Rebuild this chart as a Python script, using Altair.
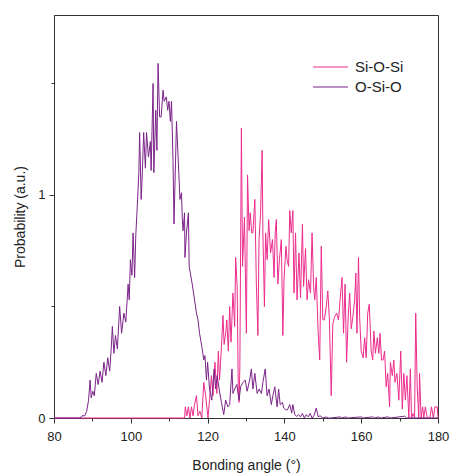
import altair as alt
import pandas as pd

# Si-O-Si bond-angle distribution (angle in degrees, probability a.u.)
sios_x = [80, 114.0, 114.2, 114.6, 115.0, 115.4, 115.8, 116.2, 116.6, 117.1, 117.5, 118.0, 118.5,
          119.0, 119.5, 120.1, 120.5, 121.0, 121.4, 121.9, 122.4, 122.8, 123.1, 123.6, 124.0,
          124.3, 124.7, 125.0, 125.4, 125.75, 126.1, 126.6, 127.05, 127.3, 127.7, 128.0, 128.2,
          128.4, 128.8, 129.1, 129.6, 130.1, 130.4, 130.8, 131.1, 131.5, 131.8, 132.3, 132.7,
          133.1, 133.4, 133.8, 134.2, 134.4, 134.8, 135.1, 135.5, 135.9, 136.4, 136.9, 137.3,
          137.6, 137.9, 138.3, 138.7, 139.2, 139.6, 139.9, 140.4, 140.7, 141.1, 141.4, 141.8,
          142.2, 142.5, 142.9, 143.3, 143.8, 144.2, 144.7, 145.0, 145.5, 145.9, 146.3, 146.8,
          147.2, 147.6, 147.9, 148.3, 148.8, 149.2, 149.6, 150.0, 150.4, 150.9, 151.3, 151.7,
          152.2, 152.6, 153.0, 153.6, 154.1, 154.5, 155.0, 155.4, 155.8, 156.2, 156.6, 157.0,
          157.4, 157.8, 158.3, 158.6, 158.9, 159.3, 159.6, 160.0, 160.5, 160.9, 161.3, 161.7,
          162.1, 162.6, 163.0, 163.3, 163.7, 164.2, 164.6, 164.9, 165.3, 165.7, 166.1, 166.5,
          166.9, 167.4, 167.6, 168.1, 168.5, 168.8, 169.3, 169.8, 170.3, 170.7, 171.1, 171.5,
          171.9, 172.4, 172.8, 173.1, 173.5, 173.9, 174.2, 174.6, 175.0, 175.2, 175.6, 176.0,
          176.3, 176.7, 177.2, 177.9, 178.3, 178.8, 179.2, 179.8, 180]
sios_y = [0, 0.0, 0.05, 0.01, 0.05, 0.0, 0.05, 0.01, 0.06, 0.10, 0.01, 0.03, 0.0,
          0.16, 0.10, 0.0, 0.08, 0.19, 0.10, 0.25, 0.11, 0.30, 0.17, 0.32, 0.46,
          0.33, 0.38, 0.44, 0.30, 0.50, 0.34, 0.56, 0.41, 0.72, 0.59, 0.11, 0.07,
          0.23, 1.30, 0.68, 0.90, 0.38, 1.09, 0.84, 0.92, 0.83, 0.83, 0.98, 0.60,
          0.37, 0.80, 0.92, 1.20, 0.83, 0.50, 0.83, 0.71, 0.89, 0.74, 0.80, 0.63,
          0.83, 0.89, 0.60, 0.71, 0.80, 0.37, 0.62, 0.77, 0.71, 0.68, 0.93, 0.83,
          0.93, 0.56, 0.83, 0.53, 0.74, 0.54, 0.87, 0.59, 0.76, 0.53, 0.62, 0.56,
          0.83, 0.59, 0.53, 0.63, 0.38, 0.26, 0.77, 0.44, 0.44, 0.50, 0.57, 0.45,
          0.10, 0.42, 0.45, 0.47, 0.44, 0.53, 0.63, 0.38, 0.60, 0.25, 0.45, 0.56,
          0.40, 0.45, 0.53, 0.65, 0.38, 0.72, 0.45, 0.30, 0.27, 0.36, 0.27, 0.47,
          0.51, 0.30, 0.26, 0.39, 0.29, 0.36, 0.29, 0.38, 0.26, 0.26, 0.30, 0.14,
          0.20, 0.05, 0.25, 0.19, 0.26, 0.16, 0.20, 0.08, 0.30, 0.04, 0.20, 0.08,
          0.19, 0.0, 0.22, 0.0, 0.02, 0.0, 0.47, 0.13, 0.0, 0.20, 0.0, 0.05,
          0.0, 0.05, 0.0, 0.0, 0.05, 0.0, 0.05, 0.05, 0.0]

# O-Si-O bond-angle distribution
osio_x = [80, 86.8, 87.3, 88.0, 88.5, 89.0, 89.4, 89.7, 90.1, 90.5, 91.0, 91.5, 92.0, 92.5,
          93.0, 93.5, 94.0, 94.5, 94.9, 95.2, 95.6, 96.0, 96.5, 97.1, 97.6, 98.2, 98.7, 99.3,
          99.6, 99.9, 100.3, 100.6, 101.0, 101.3, 101.6, 102.1, 102.3, 102.7, 103.0, 103.35,
          103.8, 104.1, 104.6, 105.1, 105.3, 105.8, 106.0, 106.5, 106.8, 107.1, 107.5, 107.9,
          108.4, 108.7, 109.25, 109.6, 109.95, 110.3, 110.6, 111.0, 111.25, 111.9, 112.5,
          112.8, 113.2, 113.4, 113.6, 114.0, 114.1, 114.5, 115.0, 115.2, 115.5, 116.0, 116.6,
          117.1, 117.5, 117.9, 118.5, 119.0, 119.3, 119.7, 120.0, 120.5, 121.1, 121.7, 122.1,
          122.5, 123.0, 123.6, 124.2, 124.7, 125.3, 125.75, 126.35, 126.6, 127.05, 127.6,
          128.2, 128.6, 129.2, 129.8, 130.3, 130.95, 131.4, 131.8, 132.3, 132.9, 133.4, 134.0,
          134.4, 135.0, 135.5, 136.0, 136.6, 137.0, 137.5, 138.1, 138.5, 138.9, 139.5, 139.8,
          140.3, 140.8, 141.4, 141.9, 142.2, 142.7, 143.2, 143.7, 144.2, 144.7, 145.2, 145.7,
          146.2, 146.7, 147.2, 147.7, 148.3, 148.8, 149.3, 150.0, 151.0, 151.5, 152.0, 154.5,
          155.0, 156.0, 156.5, 160.0, 160.5, 163.0, 163.5, 164.5, 165.0, 167.0, 167.5, 171.3,
          171.8, 180]
osio_y = [0, 0, 0.01, 0.01, 0.03, 0.08, 0.17, 0.09, 0.12, 0.10, 0.20, 0.15, 0.21, 0.16,
          0.25, 0.19, 0.27, 0.21, 0.31, 0.41, 0.29, 0.37, 0.31, 0.50, 0.38, 0.47, 0.43, 0.60,
          0.53, 0.71, 0.64, 0.83, 0.63, 0.82, 0.92, 1.10, 1.28, 0.98, 1.10, 1.28,
          1.12, 1.28, 1.17, 1.24, 1.11, 1.50, 1.10, 1.38, 1.20, 1.59, 1.35, 1.35,
          1.47, 1.42, 1.44, 1.38, 1.42, 1.33, 1.42, 1.15, 0.87, 1.33, 1.10,
          0.98, 1.01, 0.90, 0.84, 0.92, 0.72, 0.83, 0.92, 0.68, 0.65, 0.60, 0.53,
          0.47, 0.44, 0.38, 0.32, 0.26, 0.28, 0.17, 0.25, 0.13, 0.08, 0.22, 0.13,
          0.19, 0.13, 0.07, 0.015, 0.08, 0.05, 0.06, 0.22, 0.11, 0.13, 0.15,
          0.08, 0.14, 0.16, 0.17, 0.12, 0.17, 0.22, 0.13, 0.20, 0.11, 0.13, 0.11,
          0.16, 0.22, 0.10, 0.13, 0.06, 0.10, 0.14, 0.05, 0.13, 0.06, 0.07, 0.045,
          0.037, 0.037, 0.06, 0.022, 0.06, 0.015, 0.007, 0.015, 0.005, 0.02, 0.0, 0.015,
          0.005, 0.02, 0.0, 0.01, 0.045, 0.005, 0.01, 0.0, 0.005, 0.0, 0.0, 0.005,
          0.0, 0.005, 0.0, 0.005, 0.0, 0.005, 0.0, 0.005, 0.0, 0.005, 0.0, 0.008,
          0.0, 0]

series_names = ["Si-O-Si", "O-Si-O"]
series_colors = ["#ec2c8c", "#7b2389"]
x_ticks = [80, 90, 100, 110, 120, 130, 140, 150, 160, 170, 180]
y_ticks = [0, 0.5, 1, 1.5]

df_sios = pd.DataFrame({"angle": sios_x, "prob": sios_y, "series": series_names[0]})
df_osio = pd.DataFrame({"angle": osio_x, "prob": osio_y, "series": series_names[1]})

FONT = "Liberation Sans"

x_enc = alt.X(
    "angle:Q",
    scale=alt.Scale(domain=[80, 180], nice=False, zero=False),
    axis=alt.Axis(
        values=x_ticks, format="d", title="Bonding angle (°)",
        labelExpr="datum.value % 20 == 0 ? datum.label : ''",
        tickSize={"condition": {"test": "datum.value % 20 != 0", "value": 3}, "value": 5},
        labelPadding=7, titlePadding=15, labelFlush=False,
    ),
)
y_enc = alt.Y(
    "prob:Q",
    scale=alt.Scale(domain=[0, 1.807], nice=False, zero=False),
    axis=alt.Axis(
        values=y_ticks, format=".0f", title="Probability (a.u.)",
        labelExpr="datum.value % 1 == 0 ? datum.label : ''",
        tickSize={"condition": {"test": "datum.value % 1 != 0", "value": 3}, "value": 5},
        labelPadding=4, titlePadding=10, labelFlush=False,
    ),
)
color_enc = alt.Color(
    "series:N",
    scale=alt.Scale(domain=series_names, range=series_colors),
    legend=alt.Legend(
        orient="none", legendX=258, legendY=42, title=None,
        symbolType="stroke", symbolSize=1225, symbolStrokeWidth=1.2,
        labelFontSize=15, labelFont=FONT, labelColor="#222",
        clipHeight=20, rowPadding=0, labelOffset=6,
    ),
)

l1 = alt.Chart(df_sios).mark_line(strokeWidth=1).encode(x=x_enc, y=y_enc, color=color_enc, order="angle:Q")
l2 = alt.Chart(df_osio).mark_line(strokeWidth=1).encode(x=x_enc, y=y_enc, color=color_enc, order="angle:Q")

chart = (
    alt.layer(l1, l2)
    .properties(width=384, height=403,
                padding={"left": 54, "top": 15, "right": 12, "bottom": 57},
                autosize=alt.AutoSizeParams(type="none"))
    .configure_view(stroke="#333", strokeWidth=1)
    .configure_axis(
        grid=False, domainColor="#333", tickColor="#333",
        labelFont=FONT, titleFont=FONT, labelFontSize=13, titleFontSize=14,
        labelColor="#222", titleColor="#222", titleFontWeight="normal",
    )
)

chart.save("out.html", embed_options={"renderer": "svg", "actions": False})
